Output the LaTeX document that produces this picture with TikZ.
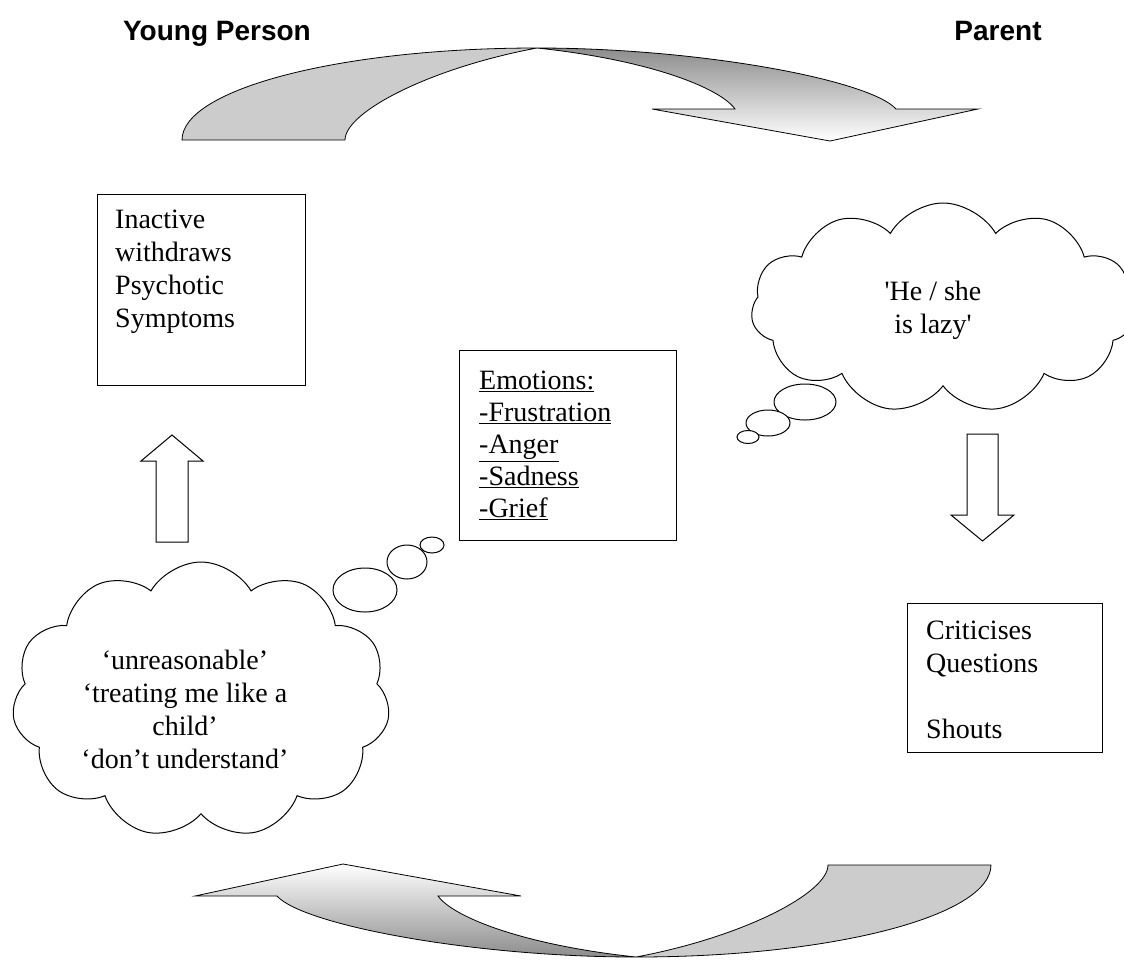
\documentclass[tikz,border=0pt]{standalone}
\usepackage{fontspec}
\setmainfont{Liberation Serif}
\newfontfamily\headfont{Liberation Sans}
\usetikzlibrary{shapes.symbols,shapes.geometric}

\begin{document}
\begin{tikzpicture}[
		x=1pt, y=-1pt,
		every node/.style={font=\fontsize{28}{33}\selectfont},
		heading/.style={font=\headfont\bfseries\fontsize{28}{33}\selectfont, anchor=base},
		actbox/.style={draw, line width=1.2pt, anchor=north west, inner sep=0pt},
		boxtext/.style={anchor=north west, align=left, inner sep=0pt},
		thoughtcloud/.style={cloud, cloud puffs=11, cloud puff arc=120, cloud ignores aspect, draw, fill=white, line width=1pt},
		bubble/.style={ellipse, draw, fill=white, line width=1pt, inner sep=0pt},
		blockarrow/.style={draw, line width=1pt, fill=white},
		backband/.style={draw, line width=0.8pt, fill=black!20}
	]
	\useasboundingbox (0,0) rectangle (1124,959);

	% who is speaking
	\node[heading] (young) at (217,40) {Young Person};
	\node[heading] (parent) at (998,40) {Parent};

	% the two curved arrows of the cycle
	\foreach \turn/\topc/\botc in {0/black!45/white, 180/white/black!45} {
		\begin{scope}[rotate around={\turn:(586.5,502.5)}]
			\path[backband] (182,140) .. controls (182,89) and (341,48) .. (537,48)
				.. controls (430,68) and (345,112) .. (345,140) -- cycle;
			\path[draw, line width=0.8pt, top color=\topc, bottom color=\botc]
				(537,48) .. controls (700,48) and (870,80) .. (896,109)
				-- (978,109) -- (830,141) -- (652,109) -- (735,109)
				.. controls (720,88) and (650,60) .. (537,48) -- cycle;
		\end{scope}
	}

	% thoughts
	\node[thoughtcloud, minimum width=378pt, minimum height=276pt] (ycloud) at (201,700) {};
	\node[thoughtcloud, minimum width=384pt, minimum height=210pt] (pcloud) at (943,308) {};
	\node[bubble, minimum width=64pt, minimum height=44pt] (yb1) at (365,590) {};
	\node[bubble, minimum width=40pt, minimum height=34pt] (yb2) at (407,562) {};
	\node[bubble, minimum width=24pt, minimum height=16pt] (yb3) at (432,545) {};
	\node[bubble, minimum width=62pt, minimum height=36pt] (pb1) at (805,402) {};
	\node[bubble, minimum width=44pt, minimum height=26pt] (pb2) at (768,423) {};
	\node[bubble, minimum width=22pt, minimum height=13pt] (pb3) at (748,437) {};
	\node[align=center] (ythought) at (185,709)
		{‘unreasonable’\\ ‘treating me like a\\ child’\\ ‘don’t understand’};
	\node[align=center] (pthought) at (933,310)
		{\textquotesingle He / she\\ is lazy\textquotesingle};

	% behaviour boxes
	\node[actbox, minimum width=208pt, minimum height=191pt] (yact) at (97,194) {};
	\node[boxtext] (yacttext) at ([shift={(18pt,-16pt)}]yact.north west)
		{Inactive\\ withdraws\\ Psychotic\\ Symptoms};
	\node[actbox, minimum width=195pt, minimum height=149pt] (pact) at (907,603) {};
	\node[boxtext] (pacttext) at ([shift={(19pt,-18pt)}]pact.north west)
		{Criticises\\ Questions\\[33pt] Shouts};
	\node[actbox, minimum width=217pt, minimum height=190pt] (emo) at (459,350) {};
	\node[boxtext, font=\fontsize{28}{32}\selectfont] (emotext) at ([shift={(20pt,-21pt)}]emo.north west)
		{\underline{Emotions:}\\ \underline{-Frustration}\\ \underline{-Anger}\\ \underline{-Sadness}\\ \underline{-Grief}};

	% straight arrows
	\draw[blockarrow] (156,542) -- (156,461) -- (141,461) -- (172,435) -- (203,461) -- (188,461) -- (188,542) -- cycle;
	\draw[blockarrow] (967,434) -- (967,515) -- (951,515) -- (982.5,541) -- (1014,515) -- (998,515) -- (998,434) -- cycle;
\end{tikzpicture}
\end{document}
